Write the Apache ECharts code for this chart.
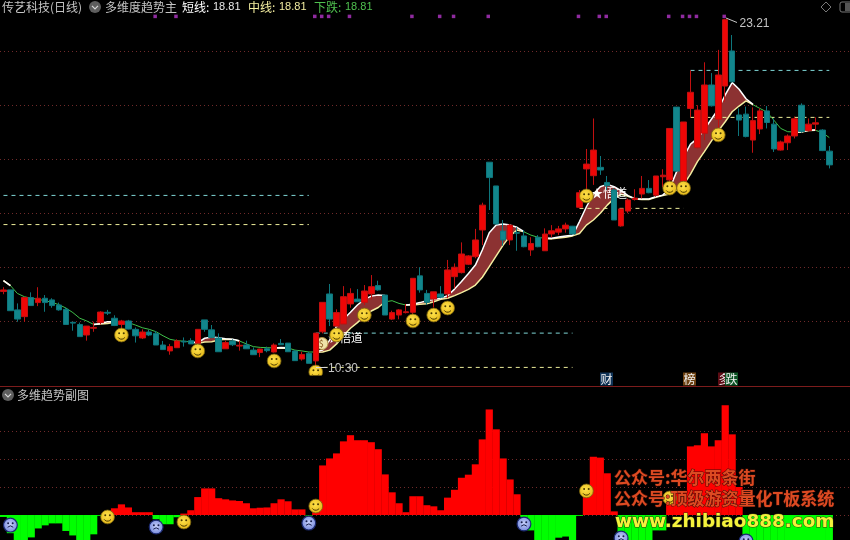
<!DOCTYPE html>
<html><head><meta charset="utf-8">
<style>html,body{margin:0;padding:0;background:#000;overflow:hidden}#c{width:850px;height:540px}</style>
<script src="https://cdn.jsdelivr.net/npm/echarts@6/dist/echarts.min.js"></script>
</head><body><div id="c"></div>
<script>
// [open, close, low, high]
const candles = [
[13.11,13.17,13.01,13.27],[13.17,12.40,12.40,13.17],[12.43,12.09,11.99,12.67],[12.18,12.89,11.99,12.89],[12.89,12.59,12.59,13.08],
[12.70,12.86,12.57,13.27],[12.86,12.70,12.36,12.98],[12.80,12.59,12.51,12.86],[12.61,12.43,12.40,12.70],[12.45,11.89,11.89,12.52],
[11.97,11.94,11.66,11.99],[11.89,11.44,11.44,11.96],[11.50,11.83,11.29,11.83],[11.75,11.78,11.62,11.99],[11.96,12.35,11.89,12.38],
[12.34,12.31,12.24,12.43],[12.12,11.85,11.83,12.23],[11.89,12.02,11.75,12.06],[12.02,11.72,11.71,12.06],[11.71,11.47,11.22,11.78],
[11.39,11.61,11.35,11.71],[11.61,11.50,11.46,11.69],[11.56,11.13,11.13,11.65],[11.13,10.96,10.96,11.28],[10.91,11.07,10.77,11.17],
[11.03,11.28,11.02,11.34],[11.27,11.24,11.07,11.41],[11.29,11.17,11.17,11.38],[11.19,11.71,11.04,11.71],[12.06,11.71,11.62,12.06],
[11.69,11.41,11.38,11.87],[11.39,10.88,10.88,11.56],[10.99,11.22,10.98,11.29],[11.28,11.14,11.09,11.34],[11.09,11.12,10.92,11.29],
[11.13,10.99,10.98,11.29],[10.94,10.77,10.76,11.04],[10.85,10.98,10.68,10.99],[10.99,10.92,10.86,11.07],[10.87,11.13,10.85,11.19],
[11.19,11.14,11.13,11.35],[11.20,10.88,10.88,11.20],[10.91,10.55,10.55,10.94],[10.61,10.78,10.55,10.88],[10.82,10.45,10.45,10.88],
[10.54,11.57,10.33,11.57],[11.62,12.71,11.56,12.71],[13.02,12.09,11.83,13.39],[11.83,12.33,11.81,12.45],[11.91,12.92,11.91,13.31],
[12.65,13.04,12.51,13.23],[12.83,12.73,12.72,13.20],[12.71,13.13,12.61,13.35],[13.02,13.29,12.82,13.72],[13.33,13.17,13.14,13.51],
[12.98,12.24,12.24,12.98],[12.09,12.33,12.06,12.40],[12.24,12.43,12.08,12.46],[12.33,12.36,12.30,12.65],[12.34,13.60,12.28,13.60],
[13.69,13.17,13.07,14.01],[13.04,12.71,12.61,13.17],[12.83,13.10,12.52,13.10],[13.02,12.90,12.86,13.31],[13.02,13.91,12.86,14.28],
[13.66,14.01,13.23,14.15],[13.81,14.50,13.78,14.93],[14.12,14.43,14.09,14.46],[14.40,15.02,14.34,15.43],[15.39,16.31,14.83,16.40],
[17.90,17.33,16.13,17.90],[17.02,15.61,15.61,17.02],[15.35,15.02,14.81,15.76],[15.02,15.57,14.83,15.61],[15.29,15.27,14.62,15.49],
[15.17,14.77,14.75,15.39],[14.65,14.89,14.43,15.12],[15.12,14.77,14.75,15.20],[14.62,15.24,14.61,15.45],[15.24,15.36,15.12,15.57],
[15.31,15.43,15.20,15.54],[15.43,15.57,15.29,15.66],[15.53,15.24,15.23,15.54],[16.23,16.77,16.19,16.87],[17.65,17.83,16.87,18.39],
[17.40,18.35,17.06,19.52],[17.71,17.61,17.43,18.13],[17.15,17.03,16.87,17.39],[16.87,15.76,15.76,16.93],[15.54,16.17,15.51,16.17],
[16.09,16.50,16.01,16.56],[16.52,16.57,16.48,16.90],[16.72,16.93,16.56,17.39],[16.93,16.77,16.75,17.24],[16.68,17.39,16.62,17.39],
[17.36,17.42,16.97,17.64],[17.24,19.15,17.06,19.15],[19.94,17.57,17.55,19.94],[17.18,19.39,16.99,19.39],[19.89,20.49,19.56,21.30],
[18.44,19.83,18.41,20.01],[18.97,20.76,18.72,21.60],[20.76,19.99,19.96,21.20],[19.49,21.13,19.15,22.06],[20.72,23.18,20.14,23.21],
[22.02,20.88,20.85,22.61],[19.65,19.46,18.87,19.89],[19.68,18.85,18.82,19.96],[18.72,19.44,18.25,19.93],[19.13,19.80,18.94,19.89],
[19.80,19.37,19.15,19.98],[19.31,18.39,18.28,19.52],[18.35,18.65,18.33,18.70],[18.62,18.87,18.35,18.93],[18.87,19.51,18.78,19.59],
[20.01,19.04,18.99,20.08],[19.07,19.31,19.03,19.52],[19.31,19.36,19.07,19.56],[19.09,18.33,18.31,19.12],[18.31,17.80,17.67,18.50]
];
const N = v => Array(v).fill(null);
const shortLine = [13.51,13.33,...N(11),11.89,11.93,11.99,11.99,...N(10),
 11.24,11.22,11.38,11.43,11.40,11.36,11.34,11.29,...N(4),11.02,11.04,11.03,...N(3),
 10.88,10.94,11.31,11.83,12.08,12.34,12.61,12.82,12.94,12.98,12.96,...N(2),
 12.61,12.64,12.70,12.77,12.81,12.86,12.96,13.20,13.48,13.78,14.09,14.65,15.29,15.57,15.61,15.57,15.49,15.33,...N(2),
 15.09,15.08,15.13,15.17,15.19,15.70,16.25,16.72,16.99,17.08,16.99,16.85,16.66,16.55,16.54,16.54,16.62,16.68,16.93,17.55,18.10,18.57,18.78,19.12,19.49,19.86,20.39,20.85,20.60,20.25,20.04,...N(5),
 19.02,19.03,19.08,19.09,...N(2)];
const midLine = [13.51,13.33,...N(11),11.89,11.91,11.93,11.97,...N(10),
 11.24,11.19,11.24,11.25,11.31,11.34,11.33,11.28,...N(4),11.02,11.01,11.01,...N(3),
 10.86,10.87,10.94,11.17,11.48,11.75,11.96,12.19,12.39,12.52,12.73,...N(2),
 12.61,12.61,12.64,12.66,12.73,12.82,12.86,12.96,13.07,13.19,13.35,13.64,14.03,14.43,14.83,15.17,15.39,15.32,...N(2),
 15.07,15.06,15.09,15.12,15.17,15.26,15.57,15.76,16.01,16.31,16.56,16.71,16.64,16.54,16.52,16.52,16.60,16.67,16.72,16.87,17.06,17.46,17.92,18.29,18.68,19.06,19.40,19.77,19.98,20.17,20.03,...N(5),
 19.01,19.02,19.07,19.08,...N(2)];
const downLine = [null,13.33,13.04,12.92,12.86,12.82,12.77,12.71,12.62,12.50,12.33,12.12,12.02,11.89,...N(2),
 11.98,11.98,11.96,11.87,11.77,11.71,11.62,11.47,11.34,11.29,11.27,11.24,...N(6),
 11.28,11.17,11.07,11.04,11.03,11.02,null,11.02,10.94,10.91,10.87,10.87,...N(9),
 12.73,12.77,12.67,12.61,...N(16),15.32,15.20,15.12,15.08,...N(29),
 20.03,19.89,19.76,19.46,19.15,19.03,19.02,...N(2),19.08,19.00,18.81];
const subValues = [-0.7,-6.5,-9.5,-9.5,-8,-4.8,-3.7,-3,-3,-5.7,-7.3,-9.5,-9.5,-6.9,-0.3,0.5,2.4,3.8,2.7,1,1,1,-1.5,-3.3,-3.3,-0.8,0.5,1.7,6.4,9.5,9.5,6,5.6,5.2,5,4.2,2.4,2.6,2.7,4.2,5.6,4.9,2,2,-0.2,1,
 17.7,20.2,22,26.3,28.5,26.7,26.7,26,23.5,14.5,8.1,4.2,1,6.7,6.7,3.5,3.1,1.7,6.2,9,13.3,14.4,18.1,27,37.7,30.6,20.2,12.7,7.4,-0.7,-5.5,-9.5,-9.5,-9.5,-8.1,-7.7,-9.5,-0.3,
 8,20.8,20.5,14.9,1.3,-7,-9.5,-9.5,-9.5,-9.5,-5.5,-5.5,7,8,8.5,24.5,24.9,29.2,24.5,26.7,39.2,28.8,10,-7,-9.5,-9.5,-9.5,-9.5,-9.5,-9.5,-9.5,-9.5,-9.5,-9.5,-9.5,-9.5];
const magentaBars = [22,25,45,46,47,50,59,63,65,70,83,86,87,96,98,99,100,104];
const magentaLevel = 23.30;
const mainSmiles = [[17,11.5],[28,10.91],[39,10.54],[45,10.13],[48,11.5],[52,12.24],[59,12.02],[62,12.24],[64,12.5],[84,16.65],[96,16.94],[98,16.94],[103,18.91]];
const subSmiles = [[15,-0.7],[26,-2.5],[45,3.2],[84,8.6],[96,6.1]];
const subFrowns = [[1,-3.6],[22,-4.3],[44,-2.9],[75,-3.2],[89,-8.2],[107,-9.3]];
const dashLevels = [
 {from:0,to:44,price:16.67,color:'#7fd6d6'},{from:0,to:44,price:15.59,color:'#eded9a'},
 {from:45,to:82,price:11.57,color:'#7fd6d6'},{from:45,to:82,price:10.30,color:'#eded9a'},
 {from:83,to:98,price:16.19,color:'#eded9a'},
 {from:99,to:119,price:21.30,color:'#7fd6d6'},{from:99,to:119,price:19.56,color:'#eded9a'}];
const categories = Array.from({length:123},(_,i)=>String(i));
const peak = 23.21, lastValue = 18.81;

const UP='#ee0606',UPB='#c21010',DN='#12868c',DNB='#0e767c';
const CJK='"Noto Sans CJK SC"';
const DOT={type:[1,3],color:'#702a2a',width:1};

function face(kind){
 return function(params,api){
  const c=api.coord([api.value(0),api.value(1)]),x=c[0],y=c[1],s=params.coordSys,ink=kind==='smile'?'#4a3a00':'#18204e';
  const kids=[{type:'circle',shape:{cx:x,cy:y,r:6.9},style:kind==='smile'
    ?{fill:{type:'radial',x:.45,y:.4,r:.7,colorStops:[{offset:0,color:'#ffe24a'},{offset:1,color:'#e0b010'}]},stroke:'#7a6410',lineWidth:.8}
    :{fill:{type:'radial',x:.5,y:.45,r:.6,colorStops:[{offset:0,color:'#c6d0fa'},{offset:1,color:'#6a7fd8'}]},stroke:'#1c2a70',lineWidth:1.2}},
   {type:'circle',shape:{cx:x-2.3,cy:y-1.8,r:1},style:{fill:ink}},
   {type:'circle',shape:{cx:x+2.3,cy:y-1.8,r:1},style:{fill:ink}},
   kind==='smile'
    ?{type:'arc',shape:{cx:x,cy:y,r:4.2,startAngle:.2*Math.PI,endAngle:.8*Math.PI,clockwise:true},style:{stroke:ink,lineWidth:1,fill:null}}
    :{type:'arc',shape:{cx:x,cy:y+5,r:4,startAngle:1.25*Math.PI,endAngle:1.75*Math.PI,clockwise:true},style:{stroke:ink,lineWidth:1,fill:null}}];
  return {type:'group',clipPath:{type:'rect',shape:{x:s.x,y:s.y,width:s.width,height:s.height}},children:kids};
 };
}
const line=(data,color,width,z,extra)=>Object.assign({type:'line',xAxisIndex:0,yAxisIndex:0,data,showSymbol:false,silent:true,animation:false,z,
  lineStyle:{color,width},connectNulls:false},extra||{});
const series=[
 line(midLine,'none',0,1,{stack:'band',lineStyle:{width:0,opacity:0}}),
 line(shortLine.map((v,i)=>v==null?null:+(v-midLine[i]).toFixed(2)),'none',0,1,{stack:'band',lineStyle:{width:0,opacity:0},areaStyle:{color:'#8c3232',opacity:1}}),
 ...dashLevels.map(d=>({type:'line',xAxisIndex:0,yAxisIndex:0,showSymbol:false,silent:true,animation:false,z:2,
   data:[[d.from,d.price],[d.to,d.price]],lineStyle:{color:d.color,width:1,type:[4,4]}})),
 line(downLine,'#3fc04a',1,2),
 line(midLine,'#f4eea0',1.5,2),
 line(shortLine,'#ffffff',1.5,2),
 {type:'candlestick',xAxisIndex:0,yAxisIndex:0,data:candles,barWidth:6,z:3,silent:true,animation:false,
  itemStyle:{color:UP,color0:DN,borderColor:UPB,borderColor0:DNB,borderWidth:1}},
 {type:'scatter',xAxisIndex:0,yAxisIndex:0,data:magentaBars.map(i=>[i,magentaLevel]),symbol:'rect',symbolSize:3.5,symbolOffset:[-1,0],silent:true,animation:false,z:4,clip:false,
  itemStyle:{color:'#b436c8'}},
 {type:'custom',xAxisIndex:0,yAxisIndex:0,data:mainSmiles,encode:{x:0,y:1},renderItem:face('smile'),silent:true,animation:false,z:6,clip:false},
 {type:'bar',xAxisIndex:1,yAxisIndex:1,barWidth:7.2,silent:true,animation:false,z:2,
  data:subValues.map(v=>({value:v,itemStyle:{color:v>=0?'#ff0000':'#00ff00'}}))},
 {type:'custom',xAxisIndex:1,yAxisIndex:1,data:subSmiles,encode:{x:0,y:1},renderItem:face('smile'),silent:true,animation:false,z:6},
 {type:'custom',xAxisIndex:1,yAxisIndex:1,data:subFrowns,encode:{x:0,y:1},renderItem:face('frown'),silent:true,animation:false,z:6}
];
function text(x,y,t,fill,size,opt){return Object.assign({type:'text',x,y,z:20,silent:true,
  style:Object.assign({text:t,fill,font:`${size}px ${CJK}`,textVerticalAlign:'middle',textAlign:'left'},(opt&&opt.style)||{})},opt&&opt.el||{});}
function icon(cx,cy){return [
 {type:'circle',shape:{cx,cy,r:6},style:{fill:'#5e5e5e'},z:20,silent:true},
 {type:'polyline',shape:{points:[[cx-3,cy-1.2],[cx,cy+1.8],[cx+3,cy-1.2]]},style:{stroke:'#d8d8d8',lineWidth:1.2,fill:null},z:21,silent:true}];}
function tag(x,w,bg,ch){return [
 {type:'rect',shape:{x,y:372.5,width:w,height:13},style:{fill:bg},z:20,silent:true},
 text(x+.5,379.2,ch,'#f0f0f0',12)];}
const NUM='"Liberation Sans"';
const graphic=[
 {type:'rect',shape:{x:0,y:386,width:850,height:1},style:{fill:'#7c1c1c'},z:19,silent:true},
 text(2,7,'传艺科技(日线)','#c4c4c4',12),
 ...icon(95,7),
 text(105,7,'多维度趋势主','#c4c4c4',12),
 text(182,7,'短线:','#ffffff',12), text(213,7,String(lastValue),'#e8e8e8',11,{style:{font:`11px ${NUM}`}}),
 text(248,7,'中线:','#f4eea0',12), text(279,7,String(lastValue),'#f0eaa0',11,{style:{font:`11px ${NUM}`}}),
 text(314,7,'下跌:','#4fc04f',12), text(345,7,String(lastValue),'#4fc04f',11,{style:{font:`11px ${NUM}`}}),
 {type:'polygon',shape:{points:[[826,2],[831,7],[826,12],[821,7]]},style:{fill:null,stroke:'#777',lineWidth:1},z:20,silent:true},
 {type:'rect',shape:{x:840,y:2,width:14,height:10,r:2},style:{fill:null,stroke:'#777',lineWidth:1},z:20,silent:true},
 {type:'rect',shape:{x:845,y:3,width:5,height:8},style:{fill:'#555'},z:20,silent:true},
 ...icon(8,395),
 text(17,395,'多维趋势副图','#c4c4c4',12),
 {type:'line',shape:{x1:726,y1:18,x2:737,y2:22.5},style:{stroke:'#c8c8c8',lineWidth:1},z:20,silent:true},
 text(739.5,24,String(peak),'#c4c4c4',12,{style:{font:`12px ${NUM}`}}),
 {type:'line',shape:{x1:316,y1:367.5,x2:327,y2:367.5},style:{stroke:'#d8d8d8',lineWidth:1},z:20,silent:true},
 text(328,368.5,'10:30','#c4c4c4',12,{style:{font:`12px ${NUM}`}}),
 {type:'circle',shape:{cx:322,cy:343.5,r:6},style:{fill:'#efe2a8',stroke:'#b09040',lineWidth:1},z:2.5,silent:true},
 text(318.8,343.5,'$','#8a5a20',9,{el:{z:2.6}}),
 text(328,338,'★悟道','#ffffff',11.5,{el:{z:2.5}}),
 text(591,193,'★悟道','#ffffff',12,{el:{z:2.5}}),
 ...tag(600,13,'#103458','财'),
 ...tag(683,13,'#6e4212','榜'),
 ...tag(718,13,'#5c0c14','多'),
 ...tag(725,13,'#0c5424','跌'),
 text(614,478,'公众号:华尔两条街','#dc4a22',17,{el:{z:30},style:{font:`bold 17px ${CJK}`,stroke:'#401008',lineWidth:1}}),
 text(614,499,'公众号:顶级游资量化T板系统','#dc4a22',17,{el:{z:30},style:{font:`bold 17px ${CJK}`,stroke:'#401008',lineWidth:1}}),
 text(615,522,'www.zhibiao888.com','#f4f23c',18.4,{el:{z:30},style:{font:'bold 18.4px "DejaVu Sans"',stroke:'#3a3a10',lineWidth:1}})
];
const axisX=(g)=>({type:'category',gridIndex:g,data:categories,boundaryGap:true,axisLine:{show:false},axisTick:{show:false},axisLabel:{show:false},splitLine:{show:false}});
const chart=echarts.init(document.getElementById('c'),null,{renderer:'canvas'});
chart.setOption({
 backgroundColor:'#000',animation:false,
 grid:[{left:0,top:-2.5,width:853.6,height:378,outerBoundsMode:'none'},{left:0,top:403,width:853.6,height:140,outerBoundsMode:'none'}],
 xAxis:[axisX(0),axisX(1)],
 yAxis:[
  {type:'value',gridIndex:0,min:10,max:24,interval:2,axisLine:{show:false},axisTick:{show:false},axisLabel:{show:false},
   splitLine:{show:true,showMinLine:false,showMaxLine:false,lineStyle:DOT}},
  {type:'value',gridIndex:1,min:-10,max:40,interval:10,axisLine:{show:false},axisTick:{show:false},axisLabel:{show:false},
   splitLine:{show:true,showMinLine:false,showMaxLine:false,lineStyle:DOT}}],
 series,graphic:{elements:graphic}
});
</script></body></html>
